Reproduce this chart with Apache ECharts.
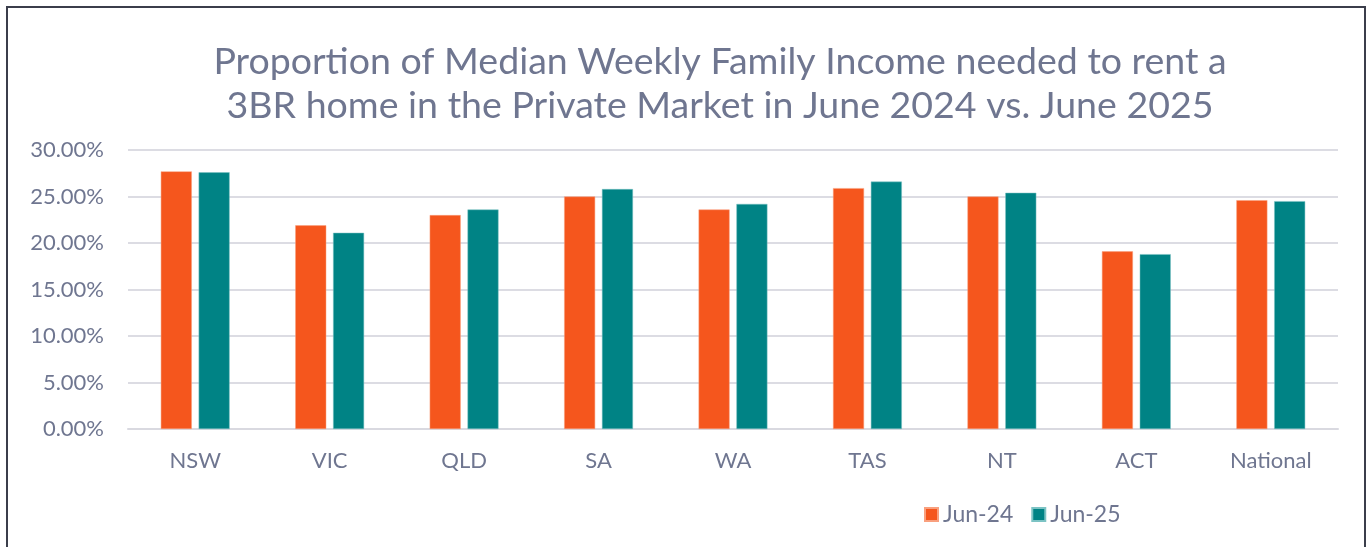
<!DOCTYPE html>
<html>
<head>
<meta charset="utf-8">
<script src="https://cdn.jsdelivr.net/npm/echarts@6/dist/echarts.min.js"></script>
<style>
  html, body { margin: 0; padding: 0; background: #fff; }
  #container { width: 1370px; height: 547px; }
</style>
</head>
<body>
<div id="container"></div>
<script>
// data
var categories = ["NSW", "VIC", "QLD", "SA", "WA", "TAS", "NT", "ACT", "National"];
var jun24 = [27.7, 21.9, 23.0, 25.0, 23.6, 25.9, 25.0, 19.1, 24.6];
var jun25 = [27.6, 21.1, 23.6, 25.8, 24.2, 26.6, 25.4, 18.8, 24.5];
var seriesNames = ["Jun-24", "Jun-25"];

var textColor = "#6f7690";
var titleFont = {
  fontFamily: "Lato",
  fontWeight: "normal",
  fontSize: 37.5,
  lineHeight: 44,
  color: textColor,
};

var dom = document.getElementById("container");
var myChart = echarts.init(dom, null, { renderer: "canvas" });

var option = {
  animation: false,
  backgroundColor: "#fff",
  title: {
    // two differently named segments so Lato does not draw the "ti" ligature
    text: "{a|Propor}{b|tion of Median Weekly Family Income needed to rent a}\n{b|3BR home in the Private Market in June 2024 vs. June 2025}",
    left: 715,
    top: 35,
    textAlign: "center",
    textStyle: {
      rich: {
        a: titleFont,
        b: Object.assign({}, titleFont),
      },
    },
  },
  // outer frame
  graphic: [
    {
      type: "rect",
      shape: { x: 7, y: 7, width: 1358, height: 600 },
      style: { fill: "none", stroke: "#3b3e4b", lineWidth: 2 },
      silent: true,
    },
  ],
  legend: {
    data: seriesNames,
    left: 919,
    top: 498,
    itemWidth: 13,
    itemHeight: 13,
    itemGap: 18,
    icon: "rect",
    textStyle: { fontFamily: "Lato", fontSize: 23, color: textColor },
  },
  grid: {
    left: 128,
    right: 32,
    top: 150,
    bottom: 118,
  },
  xAxis: {
    type: "category",
    data: categories,
    axisTick: { show: false },
    axisLine: { lineStyle: { color: "#d9d9e0", width: 2 } },
    axisLabel: {
      fontFamily: "Lato",
      fontSize: 22,
      color: textColor,
      margin: 21,
    },
  },
  yAxis: {
    type: "value",
    min: 0,
    max: 30,
    interval: 5,
    axisLine: { show: false },
    axisTick: { show: false },
    splitLine: { lineStyle: { color: "#dcdce3", width: 2 } },
    axisLabel: {
      fontFamily: "Lato",
      fontSize: 22,
      color: textColor,
      margin: 24,
      formatter: function (v) {
        return v.toFixed(2) + "%";
      },
    },
  },
  series: [
    {
      name: seriesNames[0],
      type: "bar",
      data: jun24,
      barWidth: 31,
      barGap: "22%",
      itemStyle: { color: "#f5561d", borderColor: "#f9a07e", borderWidth: 0.5 },
    },
    {
      name: seriesNames[1],
      type: "bar",
      data: jun25,
      barWidth: 31,
      itemStyle: { color: "#008385", borderColor: "#7cc3c4", borderWidth: 0.5 },
    },
  ],
};

myChart.setOption(option);
window.addEventListener("resize", myChart.resize);
</script>
</body>
</html>
